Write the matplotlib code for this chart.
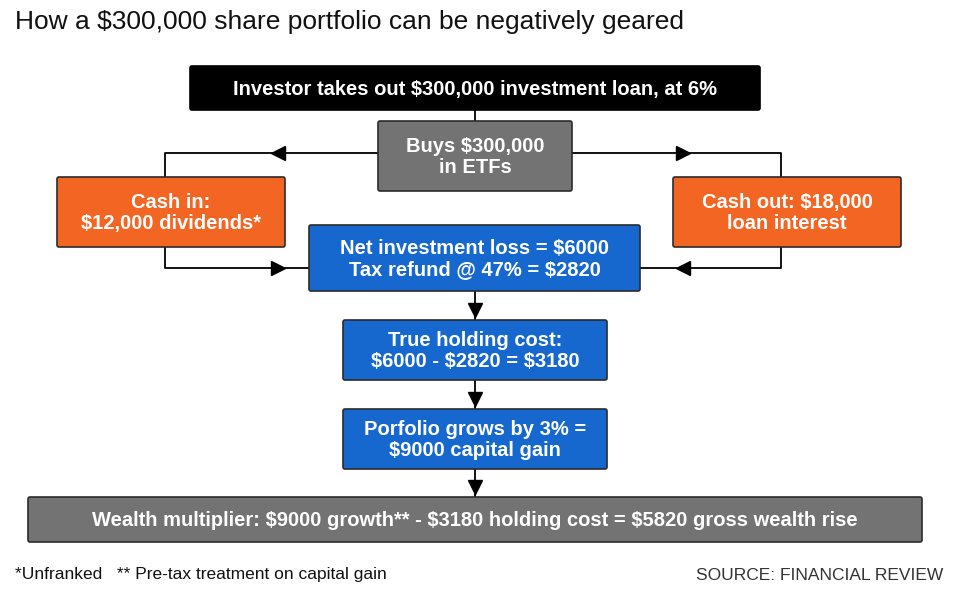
import matplotlib
matplotlib.use("Agg")
import matplotlib.pyplot as plt
from matplotlib.patches import FancyBboxPatch

plt.rcParams['font.family'] = ['Liberation Sans', 'DejaVu Sans']

title = "How a $300,000 share portfolio can be negatively geared"
box_texts = [
    "Investor takes out $300,000 investment loan, at 6%",
    "Buys $300,000\nin ETFs",
    "Cash in:\n$12,000 dividends*",
    "Cash out: $18,000\nloan interest",
    "Net investment loss = $6000\nTax refund @ 47% = $2820",
    "True holding cost:\n$6000 - $2820 = $3180",
    "Porfolio grows by 3% =\n$9000 capital gain",
    "Wealth multiplier: $9000 growth** - $3180 holding cost = $5820 gross wealth rise",
]
footnote = "*Unfranked   ** Pre-tax treatment on capital gain"
source = "SOURCE: FINANCIAL REVIEW"

# layout in pixel space: (x0, y0, x1, y1), fill colour
boxes = [
    ((190, 66, 760, 110), "#000000"),
    ((378, 121, 572, 191), "#737373"),
    ((57, 177, 285, 247), "#f26522"),
    ((673, 177, 901, 247), "#f26522"),
    ((309, 225, 640, 291), "#1668cf"),
    ((343, 320, 607, 380), "#1668cf"),
    ((343, 409, 607, 469), "#1668cf"),
    ((28, 497, 922, 542), "#737373"),
]

fig = plt.figure(figsize=(9.6, 5.97), dpi=100)
ax = fig.add_axes([0, 0, 1, 1])
ax.set_xlim(0, 960)
ax.set_ylim(597, 0)
ax.axis("off")

lw = 1.3
# connector lines
ax.plot([475, 475], [110, 121], color="black", lw=lw)
ax.plot([378, 165, 165], [153, 153, 177], color="black", lw=lw)
ax.plot([572, 781, 781], [153, 153, 177], color="black", lw=lw)
ax.plot([165, 165, 309], [247, 268, 268], color="black", lw=lw)
ax.plot([781, 781, 640], [247, 268, 268], color="black", lw=lw)
for y0, y1 in [(291, 320), (380, 409), (469, 497)]:
    ax.plot([475, 475], [y0, y1], color="black", lw=lw)
    ax.plot(475, y1 - 10, marker="v", color="black", ms=10)
ax.plot(278, 153, marker="<", color="black", ms=10)
ax.plot(683, 153, marker=">", color="black", ms=10)
ax.plot(278, 268, marker=">", color="black", ms=10)
ax.plot(683, 268, marker="<", color="black", ms=10)

for ((x0, y0, x1, y1), col), txt in zip(boxes, box_texts):
    ec = "#2b2b2b" if col != "#000000" else "black"
    ax.add_patch(FancyBboxPatch((x0, y0), x1 - x0, y1 - y0,
                                boxstyle="round,pad=0,rounding_size=2",
                                fc=col, ec=ec, lw=1.2, zorder=3))
    ax.text((x0 + x1) / 2, (y0 + y1) / 2 + 1, txt, color="white",
            fontsize=14.5, fontweight="bold", ha="center", va="center",
            linespacing=1.15, zorder=4)

ax.text(15, 22, title, fontsize=19, ha="left", va="center", color="#111111")
ax.text(15, 575, footnote, fontsize=12.5, ha="left", va="center", color="#111111")
ax.text(943, 575, source, fontsize=12.5, ha="right", va="center", color="#333333")

fig.savefig("out.png", dpi=100)
